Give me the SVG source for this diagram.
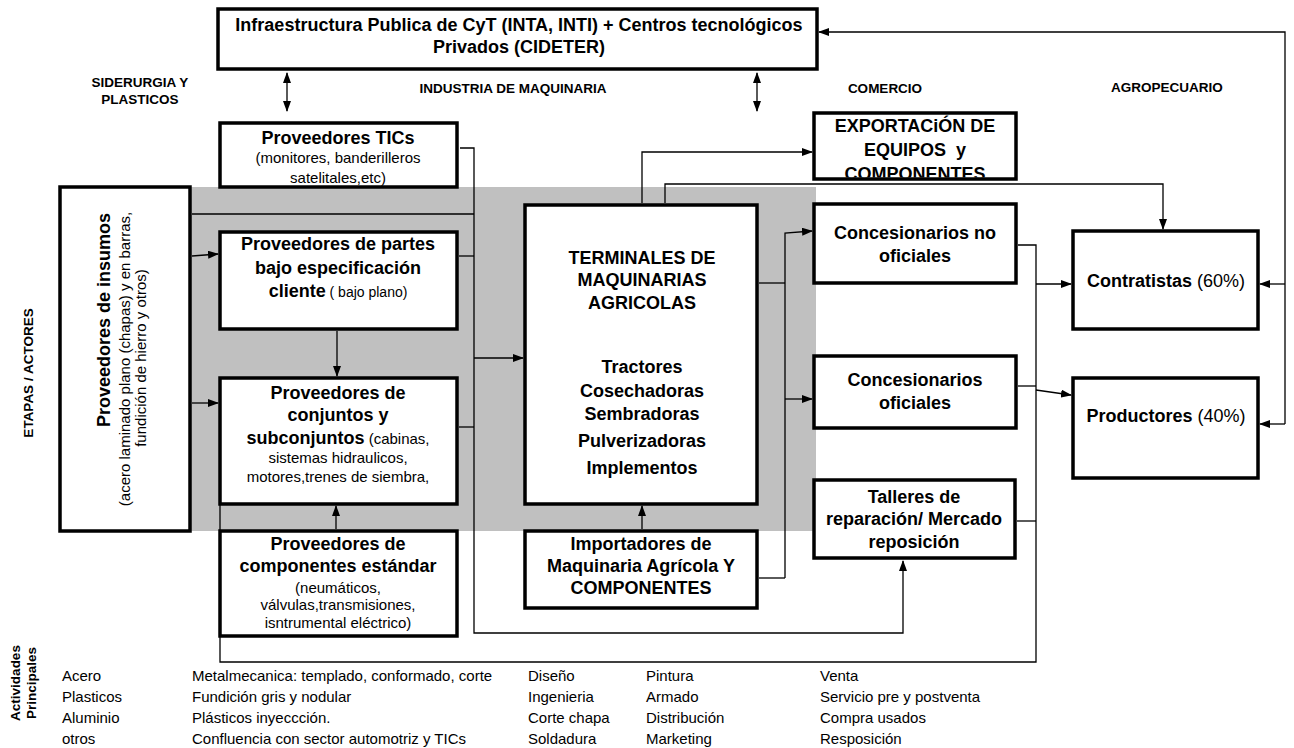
<svg xmlns="http://www.w3.org/2000/svg" width="1294" height="748" viewBox="0 0 1294 748">
<defs>
<marker id="ah" markerUnits="userSpaceOnUse" markerWidth="11" markerHeight="8" refX="10" refY="4" orient="auto-start-reverse"><path d="M0,0 L11,4 L0,8 z" fill="#000"/></marker>
<clipPath id="expclip"><rect x="814" y="113" width="202" height="64.5"/></clipPath>
</defs>
<style>
.box{fill:#fff;stroke:#000;stroke-width:3.5}
.frame{fill:none;stroke:#000;stroke-width:3.5}
.ln{fill:none;stroke:#000;stroke-width:1.3}
.ar{marker-end:url(#ah)}
.da{marker-start:url(#ah);marker-end:url(#ah)}
text{font-family:"Liberation Sans",Arial,sans-serif;fill:#000}
.t{font-size:18px;font-weight:bold;text-anchor:middle}
.r{font-size:15px;font-weight:normal;text-anchor:middle}
.h{font-size:13.5px;font-weight:bold;text-anchor:middle}
.bt{font-size:15px}
.n{font-weight:normal}
</style>
<rect width="1294" height="748" fill="#fff"/>
<rect id="band" x="62" y="187" width="754" height="344" fill="#c0c0c0"/>

<g id="labels">
<text class="h" x="140" y="87">SIDERURGIA Y</text>
<text class="h" x="140" y="104">PLASTICOS</text>
<text class="h" x="513" y="93">INDUSTRIA DE MAQUINARIA</text>
<text class="h" x="885" y="93">COMERCIO</text>
<text class="h" x="1167" y="92">AGROPECUARIO</text>
<text class="h" transform="translate(33,373) rotate(-90)">ETAPAS / ACTORES</text>
<text class="h" font-size="12.5" transform="translate(20,683) rotate(-90)">Actividades</text>
<text class="h" font-size="12.5" transform="translate(36,683) rotate(-90)">Principales</text>
</g>

<g id="infra">
<rect class="box" x="218" y="9" width="599" height="60"/>
<text class="t" font-size="18.5" x="519" y="31">Infraestructura Publica de CyT (INTA, INTI) + Centros tecnológicos</text>
<text class="t" font-size="18.5" x="519" y="52.5">Privados (CIDETER)</text>
</g>

<g id="tics">
<rect class="box" x="220" y="123" width="237" height="64"/>
<text class="t" x="338" y="143.5">Proveedores TICs</text>
<text class="r" font-size="16" x="338" y="163">(monitores, banderilleros</text>
<text class="r" font-size="16" x="338" y="182.5">satelitales,etc)</text>
</g>

<g id="insumos">
<rect class="box" x="60" y="187" width="130" height="344"/>
<text class="t" font-size="17" transform="translate(110,320) rotate(-90)">Proveedores de insumos</text>
<text class="r" font-size="14" transform="translate(130,359) rotate(-90)">(acero laminado plano (chapas) y en barras,</text>
<text class="r" font-size="14" transform="translate(146,358) rotate(-90)">fundición de hierro y otros)</text>
</g>

<g id="partes">
<rect class="box" x="220" y="232" width="237" height="97"/>
<text class="t" x="338" y="249.5">Proveedores de partes</text>
<text class="t" x="338" y="273.5">bajo especificación</text>
<text class="t" x="338" y="296.5">cliente<tspan class="n" font-size="14"> ( bajo plano)</tspan></text>
</g>

<g id="conjuntos">
<rect class="box" x="220" y="378" width="237" height="126"/>
<text class="t" x="338" y="398.5">Proveedores de</text>
<text class="t" x="338" y="420.5">conjuntos y</text>
<text class="t" x="338" y="443.5">subconjuntos<tspan class="n" font-size="15"> (cabinas,</tspan></text>
<text class="r" x="338" y="463">sistemas hidraulicos,</text>
<text class="r" x="338" y="482">motores,trenes de siembra,</text>
</g>

<g id="componentes">
<rect class="box" x="220" y="531" width="237" height="105"/>
<text class="t" x="338" y="549.5">Proveedores de</text>
<text class="t" x="338" y="571.5">componentes estándar</text>
<text class="r" x="338" y="592.5">(neumáticos,</text>
<text class="r" x="338" y="610">válvulas,transmisiones,</text>
<text class="r" x="338" y="628">isntrumental eléctrico)</text>
</g>

<g id="terminales">
<rect class="box" x="525" y="205" width="232" height="299"/>
<text class="t" x="642" y="263.5">TERMINALES DE</text>
<text class="t" x="642" y="285.5">MAQUINARIAS</text>
<text class="t" x="642" y="308.5">AGRICOLAS</text>
<text class="t" x="642" y="372.5">Tractores</text>
<text class="t" x="642" y="396.5">Cosechadoras</text>
<text class="t" x="642" y="419.5">Sembradoras</text>
<text class="t" x="642" y="446.5">Pulverizadoras</text>
<text class="t" x="642" y="473.5">Implementos</text>
</g>

<g id="importadores">
<rect class="box" x="525" y="531" width="232" height="77"/>
<text class="t" x="641" y="549.5">Importadores de</text>
<text class="t" x="641" y="571.5">Maquinaria Agrícola Y</text>
<text class="t" x="641" y="593.5">COMPONENTES</text>
</g>

<g id="exportacion">
<rect x="814" y="113" width="202" height="66" fill="#fff"/>
<g clip-path="url(#expclip)">
<text class="t" x="915" y="132">EXPORTACiÓN DE</text>
<text class="t" x="915" y="155.5">EQUIPOS&#160; y</text>
<text class="t" x="915" y="180">COMPONENTES</text>
</g>
<rect class="frame" x="814" y="113" width="202" height="66"/>
</g>

<g id="conc-no-oficiales">
<rect class="box" x="814" y="204" width="202" height="79"/>
<text class="t" x="915" y="238.5">Concesionarios no</text>
<text class="t" x="915" y="261.5">oficiales</text>
</g>

<g id="conc-oficiales">
<rect class="box" x="814" y="356" width="202" height="72"/>
<text class="t" x="915" y="385.5">Concesionarios</text>
<text class="t" x="915" y="408.5">oficiales</text>
</g>

<g id="talleres">
<rect class="box" x="814" y="480" width="201" height="78"/>
<text class="t" x="914" y="502.5">Talleres de</text>
<text class="t" x="914" y="524.5">reparación/ Mercado</text>
<text class="t" x="914" y="547.5">reposición</text>
</g>

<g id="contratistas">
<rect class="box" x="1073" y="231" width="185" height="98"/>
<text class="t" x="1166" y="286.5">Contratistas<tspan class="n"> (60%)</tspan></text>
</g>

<g id="productores">
<rect class="box" x="1073" y="378" width="185" height="100"/>
<text class="t" x="1166" y="421.5">Productores<tspan class="n"> (40%)</tspan></text>
</g>

<g id="connectors">
<path class="ln" d="M819,32 H1285 V424" style="marker-start:url(#ah)"/>
<path class="ln ar" d="M1285,284 H1260"/>
<path class="ln ar" d="M1285,424 H1260"/>
<path class="ln da" d="M287,73 V111"/>
<path class="ln da" d="M757,73 V111"/>
<path class="ln ar" d="M460,148 H474 V633 H903 V561"/>
<path class="ln" d="M192,214 H474"/>
<path class="ln" d="M459,256 H474"/>
<path class="ln" d="M459,427 H474"/>
<path class="ln ar" d="M474,358 H523"/>
<path class="ln ar" d="M192,256 L218,254"/>
<path class="ln ar" d="M192,403 H218"/>
<path class="ln ar" d="M337,331 V376"/>
<path class="ln ar" d="M336,529 V506"/>
<path class="ln ar" d="M642,529 V506"/>
<path class="ln ar" d="M642,203 V152 H812"/>
<path class="ln ar" d="M665,203 V184 H1163 V229"/>
<path class="ln" d="M759,283 H785"/>
<path class="ln ar" d="M785,578 V233 L812,231"/>
<path class="ln ar" d="M785,399 H812"/>
<path class="ln" d="M759,578 H785"/>
<path class="ln" d="M1018,245 H1036 V662 H220 V505"/>
<path class="ln" d="M1018,386 H1036"/>
<path class="ln" d="M1017,521 H1036"/>
<path class="ln ar" d="M1036,284 H1071"/>
<path class="ln ar" d="M1036,390 L1071,395"/>
</g>

<g id="actividades">
<text class="bt" x="62" y="681">Acero</text>
<text class="bt" x="62" y="702">Plasticos</text>
<text class="bt" x="62" y="723">Aluminio</text>
<text class="bt" x="62" y="744">otros</text>
<text class="bt" x="192" y="681">Metalmecanica: templado, conformado, corte</text>
<text class="bt" x="192" y="702">Fundición gris y nodular</text>
<text class="bt" x="192" y="723">Plásticos inyeccción.</text>
<text class="bt" x="192" y="744">Confluencia con sector automotriz y TICs</text>
<text class="bt" x="528" y="681">Diseño</text>
<text class="bt" x="528" y="702">Ingenieria</text>
<text class="bt" x="528" y="723">Corte chapa</text>
<text class="bt" x="528" y="744">Soldadura</text>
<text class="bt" x="646" y="681">Pintura</text>
<text class="bt" x="646" y="702">Armado</text>
<text class="bt" x="646" y="723">Distribución</text>
<text class="bt" x="646" y="744">Marketing</text>
<text class="bt" x="820" y="681">Venta</text>
<text class="bt" x="820" y="702">Servicio pre y postventa</text>
<text class="bt" x="820" y="723">Compra usados</text>
<text class="bt" x="820" y="744">Resposición</text>
</g>
</svg>
